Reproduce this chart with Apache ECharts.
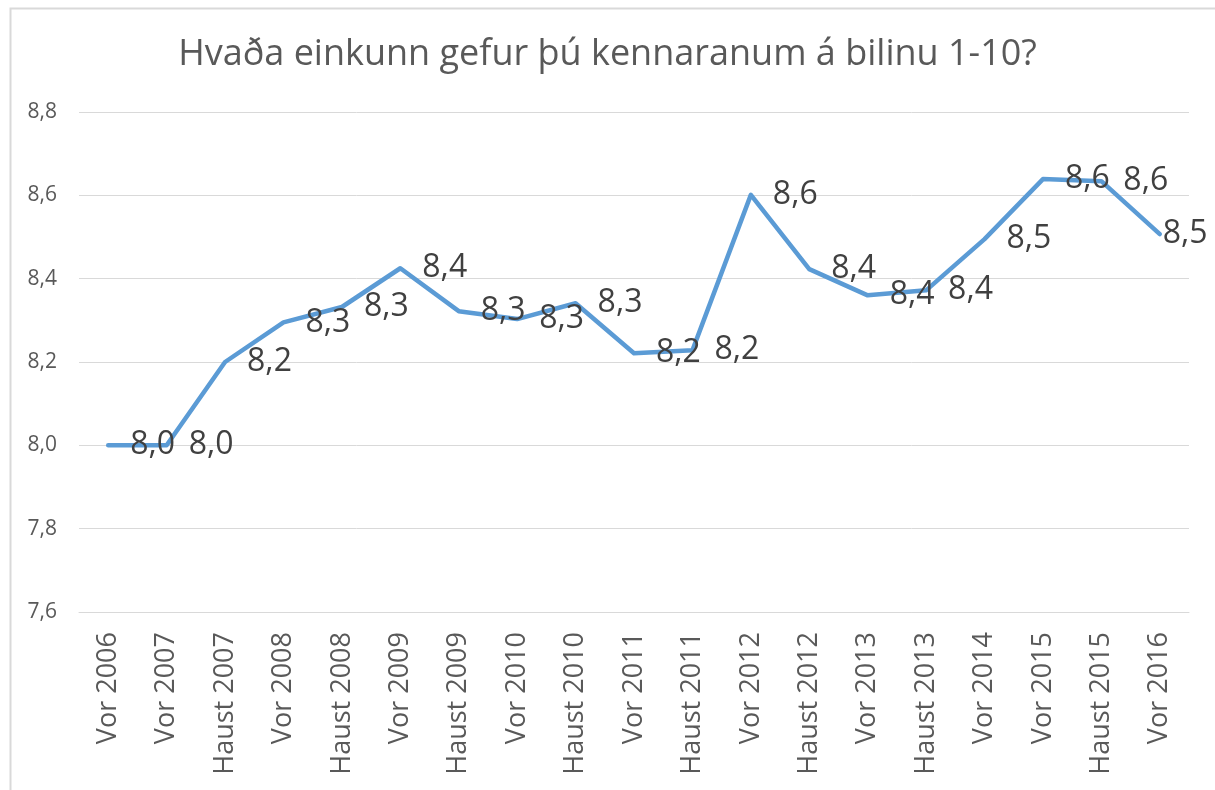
<!DOCTYPE html>
<html>
<head>
<meta charset="utf-8">
<script src="https://cdn.jsdelivr.net/npm/echarts@6/dist/echarts.min.js"></script>
<style>
html,body{margin:0;padding:0;background:#fff;}
#chart{width:1215px;height:790px;}
</style>
</head>
<body>
<div id="chart"></div>
<script>
const titleText = 'Hvaða einkunn gefur þú kennaranum á bilinu 1-10?';
const categories = ['Vor 2006','Vor 2007','Haust 2007','Vor 2008','Haust 2008','Vor 2009','Haust 2009','Vor 2010','Haust 2010','Vor 2011','Haust 2011','Vor 2012','Haust 2012','Vor 2013','Haust 2013','Vor 2014','Vor 2015','Haust 2015','Vor 2016'];
const values = [8.00, 8.00, 8.20, 8.295, 8.332, 8.425, 8.322, 8.303, 8.341, 8.221, 8.228, 8.601, 8.423, 8.360, 8.372, 8.495, 8.639, 8.634, 8.507];
const yMin = 7.6, yMax = 8.8, yStep = 0.2;

const fmt = v => Number(v).toFixed(1).replace('.', ',');
const font = '"Open Sans", sans-serif';
const seriesData = values.map((v, i) => {
  const item = { value: v };
  if (i === values.length - 1) item.label = { distance: 2 };
  return item;
});

const chart = echarts.init(document.getElementById('chart'));
chart.setOption({
  backgroundColor: '#ffffff',
  animation: false,
  graphic: [{
    type: 'rect', left: 8, top: 6, shape: { width: 1300, height: 900 },
    style: { fill: 'none', stroke: '#d9d9d9', lineWidth: 2 }, silent: true
  }],
  title: {
    text: titleText, left: 'center', top: 32,
    textStyle: { fontFamily: font, fontSize: 36, fontWeight: 'normal', color: '#595959' }
  },
  grid: { left: 79, right: 26, top: 112, bottom: 178, containLabel: false },
  xAxis: {
    type: 'category', data: categories, boundaryGap: true,
    axisLine: { show: true, lineStyle: { color: '#d9d9d9', width: 1 } },
    axisTick: { show: false },
    axisLabel: { rotate: 90, margin: 20, interval: 0, color: '#595959', fontFamily: font, fontSize: 27 }
  },
  yAxis: {
    type: 'value', min: yMin, max: yMax, interval: yStep,
    axisLine: { show: false }, axisTick: { show: false },
    splitLine: { lineStyle: { color: '#d9d9d9', width: 1 } },
    axisLabel: { margin: 22, color: '#595959', fontFamily: font, fontSize: 21, formatter: v => fmt(v) }
  },
  series: [{
    type: 'line', data: seriesData,
    symbol: 'circle', symbolSize: 2, showSymbol: true,
    itemStyle: { color: 'rgba(0,0,0,0)' },
    lineStyle: { color: '#5B9BD5', width: 4.5, cap: 'round', join: 'round' },
    label: {
      show: true, position: 'right', distance: 21,
      color: '#404040', fontFamily: font, fontSize: 32,
      formatter: p => fmt(p.value)
    },
    z: 3
  }]
});
</script>
</body>
</html>
